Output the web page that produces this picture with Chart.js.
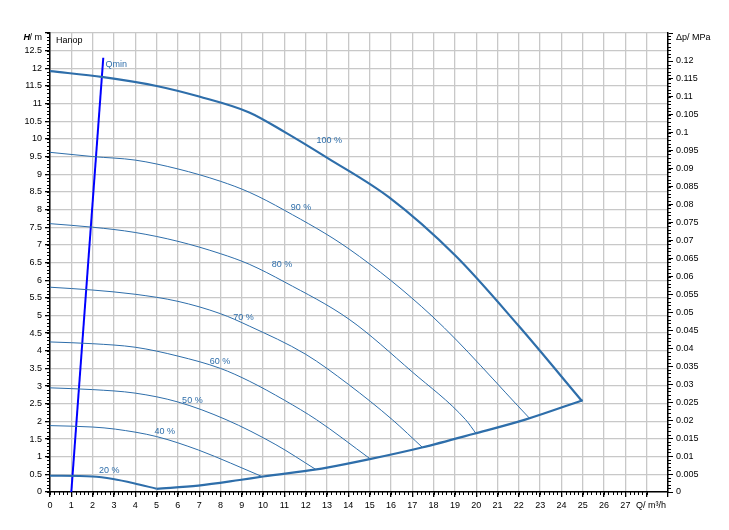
<!DOCTYPE html>
<html>
<head>
<meta charset="utf-8">
<script src="https://cdn.jsdelivr.net/npm/chart.js@4"></script>
<style>
  body { margin: 0; background: #fff; }
  #wrap { width: 729px; height: 530px; }
</style>
</head>
<body>
<div id="wrap"><canvas id="chart"></canvas></div>
<script>
// pump curves, Q in m3/h, H in m
const c100 = [[0,11.92],[2.5,11.75],[5,11.5],[7,11.2],[9.35,10.75],[11,10.2],[13.05,9.45],[15.9,8.35],[19.03,6.69],[22,4.7],[24.97,2.57]];
const c90 = [[0,9.62],[2,9.5],[4,9.4],[6,9.15],[8,8.8],[9.35,8.49],[11,7.98],[14.04,6.88],[17.93,4.98],[22.5,2.09]];
const c80 = [[0,7.6],[2,7.5],[4,7.35],[6,7.1],[8,6.75],[9.35,6.45],[11,5.95],[14.04,4.89],[17,3.4],[19.5,2.05],[20,1.65]];
const c70 = [[0,5.8],[2,5.72],[4,5.6],[6,5.4],[8,5.05],[9.35,4.7],[12,3.9],[14,3.05],[16.06,2.05],[17.5,1.25]];
const c60 = [[0,4.25],[2,4.2],[4,4.1],[6,3.85],[8,3.5],[9.35,3.14],[11,2.6],[12.5,2.05],[15,0.95]];
const c50 = [[0,2.95],[2,2.9],[4,2.8],[6,2.55],[8.26,2.05],[10.6,1.34],[12.47,0.64]];
const c40 = [[0,1.88],[2,1.84],[3.07,1.78],[5,1.57],[6.96,1.19],[8.47,0.82],[9.94,0.44]];
const c20 = [[0,0.46],[2,0.44],[2.96,0.37],[3.93,0.25],[5,0.09]];
const sysCurve = [[5,0.09],[6.96,0.18],[8.9,0.34],[10,0.44],[12.5,0.64],[13,0.69],[15,0.93],[17.45,1.26],[19.9,1.65],[22.3,2.05],[25,2.6]];
const qmin = [[1,0],[2.5,12.3]];
const curveLabels = [['100 %',12.5,9.95],['90 %',11.3,8.05],['80 %',10.4,6.45],['70 %',8.6,4.95],['60 %',7.5,3.7],['50 %',6.2,2.6],['40 %',4.9,1.7],['20 %',2.3,0.6],['Qmin',2.6,12.1]];

const blue = 'rgb(46,110,170)';
const pts = a => a.map(p => ({x: p[0], y: p[1]}));
const ds = (d, w, col) => ({data: pts(d), borderColor: col || blue, borderWidth: w, pointRadius: 0, cubicInterpolationMode: 'monotone', fill: false});

const textPlugin = {
  id: 'texts',
  afterDraw(chart) {
    const {ctx, scales: {x, y}, chartArea: a} = chart;
    ctx.save();
    ctx.font = '9px "Liberation Sans", Arial, sans-serif';
    ctx.fillStyle = blue;
    ctx.textBaseline = 'middle';
    curveLabels.forEach(l => ctx.fillText(l[0], x.getPixelForValue(l[1]), y.getPixelForValue(l[2])));
    ctx.fillStyle = '#000';
    ctx.fillText('Hanop', a.left + 6, a.top + 8);
    ctx.textAlign = 'right';
    ctx.font = 'italic bold 9px "Liberation Sans", Arial, sans-serif';
    ctx.fillText('H', 30, 38);
    ctx.font = '9px "Liberation Sans", Arial, sans-serif';
    ctx.fillText('/ m', 42, 38);
    ctx.textAlign = 'left';
    ctx.fillText('\u0394p/ MPa', a.right + 8, 38);
    ctx.fillText('Q/ m\u00b3/h', a.right - 32, a.bottom + 14);
    // minor ticks
    ctx.strokeStyle = '#000';
    ctx.lineWidth = 1;
    ctx.beginPath();
    for (let v = 0; v <= 28; v += 0.2) {
      const px = Math.round(x.getPixelForValue(v)) + 0.5;
      ctx.moveTo(px, a.bottom); ctx.lineTo(px, a.bottom + 3);
    }
    for (let v = 0; v <= 13; v += 0.1) {
      const py = Math.round(y.getPixelForValue(v)) + 0.5;
      ctx.moveTo(a.left, py); ctx.lineTo(a.left - 3, py);
    }
    const y1 = chart.scales.y1;
    for (let v = 0; v <= 0.1275; v += 0.001) {
      const py = Math.round(y1.getPixelForValue(v)) + 0.5;
      ctx.moveTo(a.right, py); ctx.lineTo(a.right + 3, py);
    }
    ctx.stroke();
    ctx.restore();
  }
};

const font = {family: '"Liberation Sans", Arial, sans-serif', size: 9};
new Chart(document.getElementById('chart'), {
  type: 'line',
  data: {
    datasets: [ds(c100, 2.2), ds(c90, 1), ds(c80, 1), ds(c70, 1), ds(c60, 1), ds(c50, 1), ds(c40, 1), ds(c20, 2),
      ds(sysCurve, 2.2), Object.assign(ds(qmin, 2, '#0000ff'), {cubicInterpolationMode: 'default', tension: 0})]
  },
  options: {
    animation: false,
    responsive: true,
    maintainAspectRatio: false,
    layout: {padding: {top: 33, right: 0, left: 0, bottom: 0}},
    plugins: {legend: {display: false}, tooltip: {enabled: false}},
    scales: {
      x: {
        type: 'linear', min: 0, max: 29,
        afterFit: s => { s.height = 38; },
        grid: {color: '#c8c8c8', lineWidth: 1.3, tickLength: 5, tickColor: '#000'},
        border: {color: '#000', width: 1.5},
        ticks: {stepSize: 1, color: '#000', font, maxRotation: 0, callback: v => v <= 27 ? v : ''}
      },
      y: {
        min: 0, max: 13,
        afterFit: s => { s.width = 50; },
        grid: {color: '#c8c8c8', lineWidth: 1.3, tickLength: 5, tickColor: '#000'},
        border: {color: '#000', width: 1.5},
        ticks: {stepSize: 0.5, color: '#000', font, callback: v => v <= 12.5 ? v : ''}
      },
      y1: {
        position: 'right', min: 0, max: 0.1278,
        afterFit: s => { s.width = 61; },
        grid: {drawOnChartArea: false, tickLength: 5, tickColor: '#000'},
        border: {color: '#000', width: 1.5},
        ticks: {stepSize: 0.005, color: '#000', font, callback: v => v <= 0.1201 ? +v.toFixed(3) : ''}
      }
    }
  },
  plugins: [textPlugin]
});
</script>
</body>
</html>
